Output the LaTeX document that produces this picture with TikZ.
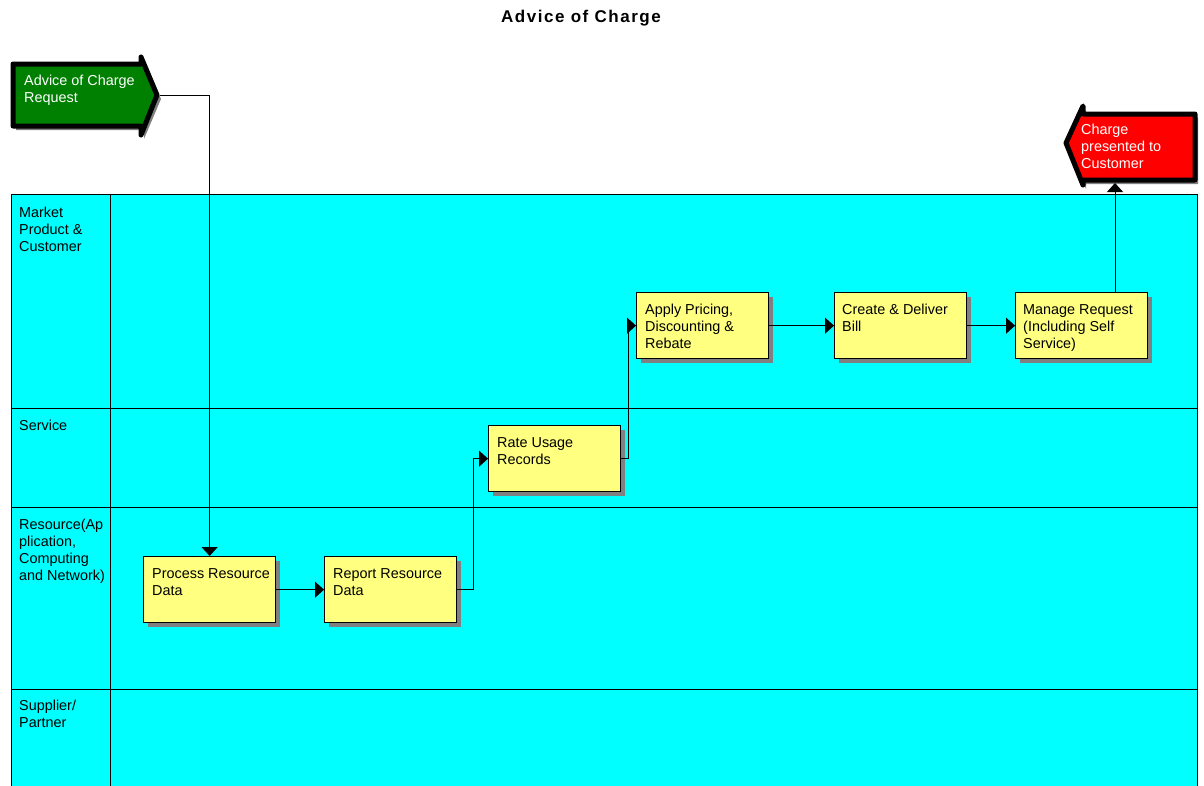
\documentclass[tikz,border=0pt]{standalone}
\usepackage{fontspec}
\setmainfont{Liberation Sans}
\newfontfamily\titlefont[LetterSpace=9]{Liberation Sans}
\usetikzlibrary{arrows.meta,calc}

\definecolor{lanecyan}{HTML}{00FFFF}
\definecolor{boxyellow}{HTML}{FFFF80}
\definecolor{shadowgray}{HTML}{808080}
\definecolor{startgreen}{HTML}{008000}
\definecolor{endred}{HTML}{FF0000}

\begin{document}
\begin{tikzpicture}[x=1pt,y=-1pt,
  lane/.style={draw=black,line width=1pt},
  stepbox/.style={draw=black,line width=1.3pt,fill=boxyellow,anchor=north west,
    minimum width=132pt,minimum height=66pt,inner sep=0pt},
  boxshadow/.style={fill=shadowgray,draw=none,anchor=north west,
    minimum width=132pt,minimum height=66pt,inner sep=0pt},
  steptext/.style={anchor=north west,inner sep=0pt,align=left,
    font=\fontsize{14.4}{17}\selectfont,execute at begin node=\strut},
  lanetext/.style={steptext},
  eventtext/.style={steptext,text=white},
  eventshape/.style={draw=black,line width=5pt,line join=round},
  flow/.style={draw=black,line width=1pt,-{Triangle[length=9pt,width=16pt]}}
]
\useasboundingbox (0,0) rectangle (1204,785);

% title
\node[anchor=base,inner sep=0pt,font=\titlefont\fontsize{17}{20}\selectfont\bfseries] (title) at (581,22) {Advice of Charge};

% swimlanes
\fill[lanecyan] (11,194) rectangle (1197,790);
\draw[lane] (11,790) -- (11,194) -- (1197,194) -- (1197,790);
\draw[lane] (110,194) -- (110,790);
\draw[lane] (11,408) -- (1197,408);
\draw[lane] (11,507) -- (1197,507);
\draw[lane] (11,689) -- (1197,689);

\node[lanetext] (l1) at (19,207) {Market\\Product \&\\Customer};
\node[lanetext] (l2) at (19,418) {Service};
\node[lanetext] (l3) at (19,519) {Resource(Ap\\plication,\\Computing\\and Network)};
\node[lanetext] (l4) at (19,700) {Supplier/\\Partner};

% start event (arrow pointing right)
\fill[shadowgray] (16,68) -- (144,68) -- (144,61) -- (161,99) -- (144,139) -- (144,130) -- (16,130) -- cycle;
\draw[eventshape,fill=startgreen] (13,64) -- (141,64) -- (141,57) -- (157,95) -- (141,135) -- (141,126) -- (13,126) -- cycle;
\node[eventtext] (req) at (24,75) {Advice of Charge\\Request};
\coordinate (reqtip) at (160,95);

% end event (arrow pointing left)
\fill[shadowgray] (1198,118) -- (1086,118) -- (1086,110) -- (1069,147) -- (1086,189) -- (1086,184) -- (1198,184) -- cycle;
\draw[eventshape,fill=endred] (1195,114) -- (1083,114) -- (1083,106) -- (1066,143) -- (1083,185) -- (1083,180) -- (1195,180) -- cycle;
\node[eventtext] (chg) at (1081,124) {Charge\\presented to\\Customer};
\coordinate (chgbot) at (1115,183);

% process steps with shadows
\foreach \x/\y in {143/556,324/556,488/425,636/292,834/292,1015/292}
  \node[boxshadow] at (\x+5,\y+5) {};

\node[stepbox] (p1) at (143,556) {};
\node[stepbox] (p2) at (324,556) {};
\node[stepbox] (p3) at (488,425) {};
\node[stepbox] (p4) at (636,292) {};
\node[stepbox] (p5) at (834,292) {};
\node[stepbox] (p6) at (1015,292) {};

\node[steptext] (t1) at ($(p1.north west)+(9,12)$) {Process Resource\\Data};
\node[steptext] (t2) at ($(p2.north west)+(9,12)$) {Report Resource\\Data};
\node[steptext] (t3) at ($(p3.north west)+(9,12)$) {Rate Usage\\Records};
\node[steptext] (t4) at ($(p4.north west)+(9,12)$) {Apply Pricing,\\Discounting \&\\Rebate};
\node[steptext] (t5) at ($(p5.north west)+(8,12)$) {Create \& Deliver\\Bill};
\node[steptext] (t6) at ($(p6.north west)+(8,12)$) {Manage Request\\(Including Self\\Service)};

% flows
\draw[flow] (reqtip) -| (p1.north);
\draw[flow] (p1.east) -- (p2.west);
\draw[flow] (p2.east) -- ++(16,0) |- (p3.west);
\draw[flow] (p3.east) -- ++(7,0) |- (p4.west);
\draw[flow] (p4.east) -- (p5.west);
\draw[flow] (p5.east) -- (p6.west);
\draw[flow] (p6.north -| chgbot) -- (chgbot);
\end{tikzpicture}
\end{document}
